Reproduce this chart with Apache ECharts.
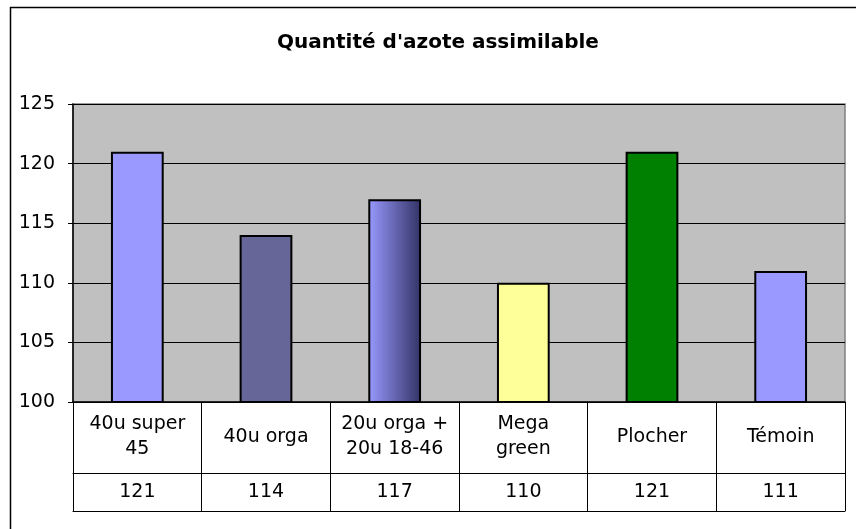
<!DOCTYPE html>
<html>
<head>
<meta charset="utf-8">
<script src="https://cdn.jsdelivr.net/npm/echarts@6/dist/echarts.min.js"></script>
<style>
html,body{margin:0;padding:0;background:#fff;}
#chart{width:856px;height:529px;}
</style>
</head>
<body>
<div id="chart"></div>
<script>
var titleText = "Quantité d'azote assimilable";
var categories = ["40u super\n45", "40u orga", "20u orga +\n20u 18-46", "Mega\ngreen", "Plocher", "Témoin"];
var values = [121, 114, 117, 110, 121, 111];
var yTicks = { min: 100, max: 125, interval: 5 };

var barColors = [
  '#9999FF',
  '#666699',
  { type: 'linear', x: 0, y: 0, x2: 1, y2: 0, colorStops: [{ offset: 0, color: '#9999FF' }, { offset: 1, color: '#333366' }] },
  '#FFFF99',
  '#008000',
  '#9999FF'
];

var FONT = 'DejaVu Sans';
var chart = echarts.init(document.getElementById('chart'), null, { renderer: 'canvas' });

var option = {
  animation: false,
  backgroundColor: '#fff',
  title: {
    text: titleText,
    left: 433, top: 28, textAlign: 'center',
    textStyle: { fontFamily: FONT, fontSize: 20, fontWeight: 'bold', color: '#000' }
  },
  graphic: [{
    type: 'polyline', silent: true,
    shape: { points: [[10.5, 540], [10.5, 7.5], [860, 7.5]] },
    style: { stroke: '#000', lineWidth: 1.5, fill: null }
  }],
  grid: {
    left: 73, right: 11, top: 104, bottom: 127,
    show: true, backgroundColor: '#C0C0C0', borderColor: '#808080', borderWidth: 1.5
  },
  xAxis: [{
    type: 'category', data: categories, position: 'bottom',
    axisLine: { show: true, lineStyle: { color: '#000', width: 1.5 } },
    axisTick: { show: true, length: 109, lineStyle: { color: '#000', width: 1 } },
    axisLabel: { margin: 35, verticalAlign: 'middle', lineHeight: 25, fontFamily: FONT, fontSize: 19, color: '#000', interval: 0 },
    splitLine: { show: false }
  }, {
    type: 'category', data: values.map(String), position: 'bottom', offset: 71,
    axisLine: { show: true, lineStyle: { color: '#000', width: 1 } },
    axisTick: { show: false },
    axisLabel: { margin: 19, verticalAlign: 'middle', fontFamily: FONT, fontSize: 19, color: '#000', interval: 0 }
  }, {
    type: 'category', data: values.map(String), position: 'bottom', offset: 109,
    axisLine: { show: true, lineStyle: { color: '#000', width: 1 } },
    axisTick: { show: false },
    axisLabel: { show: false }
  }],
  yAxis: {
    type: 'value', min: yTicks.min, max: yTicks.max, interval: yTicks.interval,
    axisLine: { show: true, lineStyle: { color: '#000', width: 1.5 } },
    axisTick: { show: true, length: 5, lineStyle: { color: '#000' } },
    axisLabel: { margin: 18, fontFamily: FONT, fontSize: 19, color: '#000' },
    splitLine: { show: true, lineStyle: { color: '#000', width: 1 } }
  },
  series: [{
    type: 'bar', xAxisIndex: 0,
    barWidth: '41%',
    data: values.map(function (v, i) {
      return { value: v, itemStyle: { color: barColors[i], borderColor: '#000', borderWidth: 2 } };
    })
  }]
};
chart.setOption(option);
</script>
</body>
</html>
